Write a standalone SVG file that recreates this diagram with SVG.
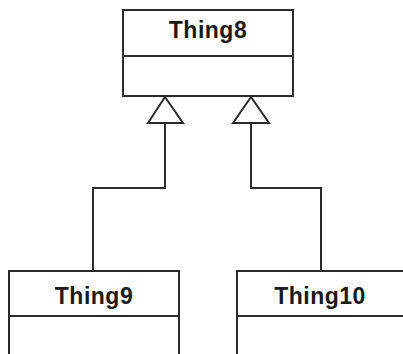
<svg xmlns="http://www.w3.org/2000/svg" width="403" height="354" viewBox="0 0 403 354">
<style>
.box{fill:#ffffff;stroke:#2b2b2b;stroke-width:2}
.line{fill:none;stroke:#2b2b2b;stroke-width:2}
.tri{fill:#ffffff;stroke:#2b2b2b;stroke-width:2;stroke-linejoin:miter}
.label{font-family:"Liberation Sans",Arial,sans-serif;font-size:23px;font-weight:bold;fill:#1a1a1a;text-anchor:middle;letter-spacing:0.5px}
</style>
<rect width="403" height="354" fill="#ffffff"/>
<g id="connectors">
<polyline class="line" points="165,123 165,188 93,188 93,271"/>
<polyline class="line" points="251,123 251,188 321,188 321,271"/>
<polygon class="tri" points="165,97 148,123 183,123"/>
<polygon class="tri" points="251,97 233,123 269,123"/>
</g>
<g id="Thing8">
<rect class="box" x="123" y="10" width="170" height="86"/>
<line class="line" x1="123" y1="56" x2="293" y2="56"/>
<text class="label" x="208" y="38">Thing8</text>
</g>
<g id="Thing9">
<rect class="box" x="9" y="271" width="170" height="100"/>
<line class="line" x1="9" y1="316" x2="179" y2="316"/>
<text class="label" x="94" y="304">Thing9</text>
</g>
<g id="Thing10">
<rect class="box" x="237" y="271" width="168" height="100"/>
<line class="line" x1="237" y1="316" x2="405" y2="316"/>
<text class="label" x="320" y="304">Thing10</text>
</g>
</svg>
